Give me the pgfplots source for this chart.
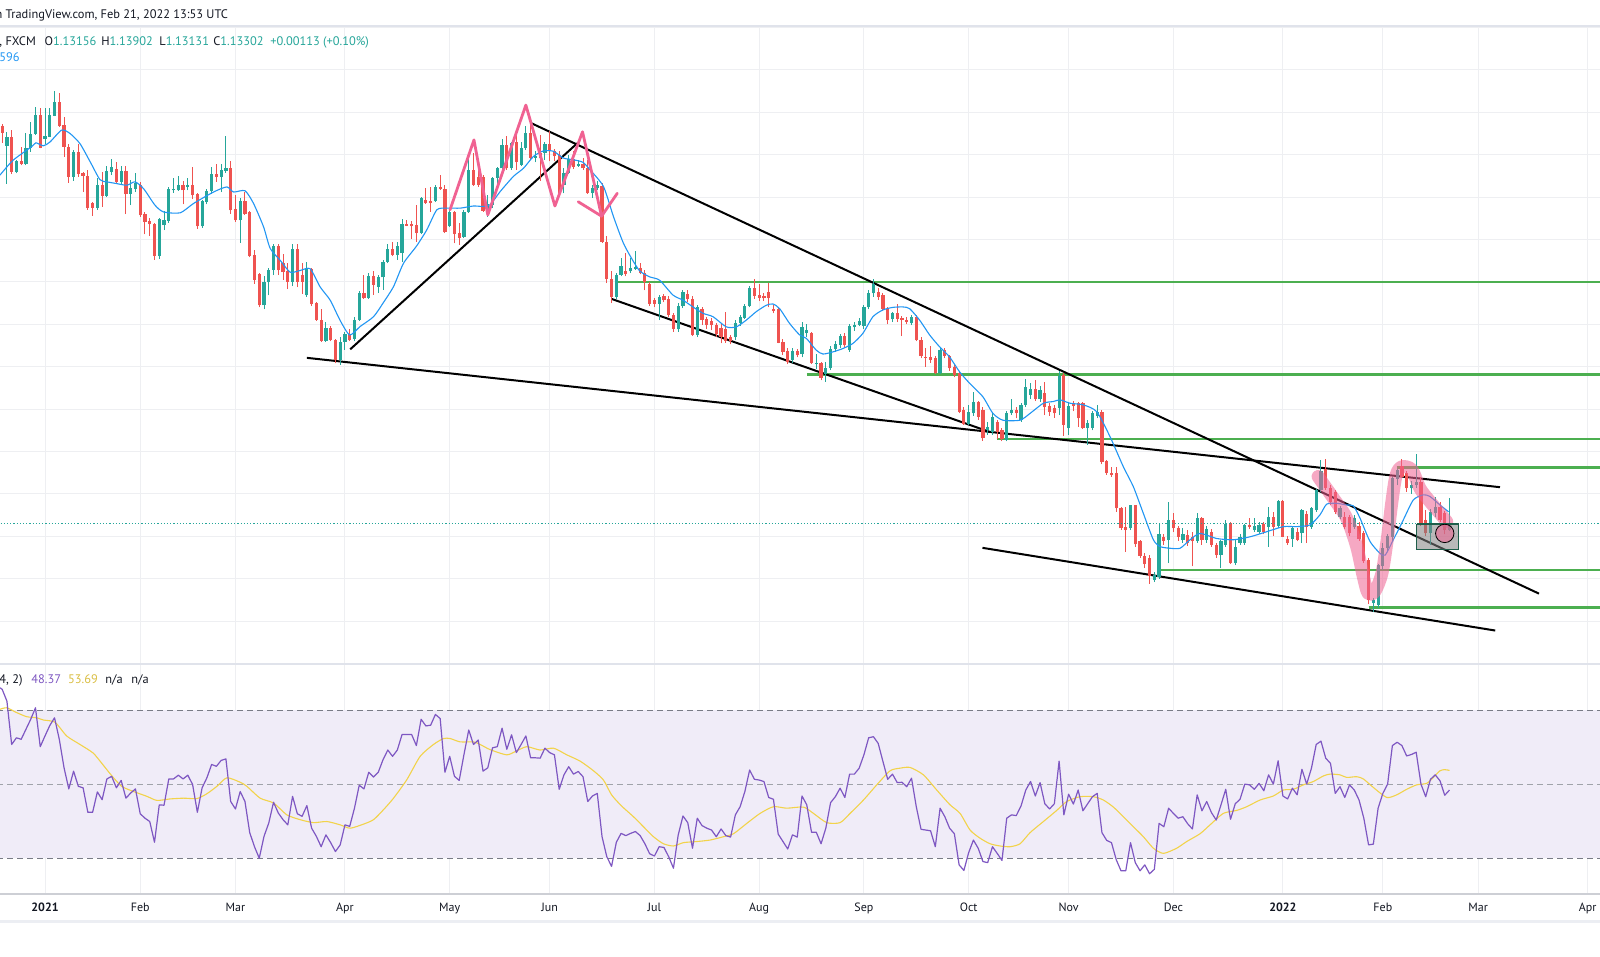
\documentclass[border=0pt]{standalone}
\usepackage{pgfplots}
\pgfplotsset{compat=1.18}
\usepackage{pgfplotstable}
\usepackage{fontspec}
\setmainfont{PT Sans}
\definecolor{upc}{HTML}{26A69A}
\definecolor{dnc}{HTML}{EF5350}
\definecolor{emac}{HTML}{2196F3}
\definecolor{rsic}{HTML}{7E57C2}
\definecolor{mac}{HTML}{F2D34A}
\definecolor{bandc}{HTML}{F0ECF8}
\definecolor{dashc}{HTML}{787B86}
\definecolor{gridc}{HTML}{EEEFF2}
\definecolor{lvlc}{HTML}{4CAF50}
\definecolor{pinkc}{HTML}{F06292}
\definecolor{txtc}{HTML}{131722}
\definecolor{sepc}{HTML}{E0E3EB}
\definecolor{boxb}{HTML}{1E5E4A}

\pgfplotstableread{
x o h l c
-9 1.2267 1.2272 1.2228 1.2252
-8 1.2221 1.2254 1.2132 1.2242
-7 1.2242 1.2258 1.2154 1.2160
-6 1.2160 1.2187 1.2156 1.2185
-5 1.2185 1.2219 1.2175 1.2179
-4 1.2179 1.2252 1.2175 1.2215
-3 1.2215 1.2278 1.2207 1.2249
-2 1.2249 1.2313 1.2246 1.2293
-1 1.2293 1.2309 1.2215 1.2216
0 1.2237 1.2309 1.2226 1.2244
1 1.2242 1.2309 1.2241 1.2293
2 1.2292 1.2350 1.2291 1.2324
3 1.2324 1.2346 1.2266 1.2268
4 1.2270 1.2288 1.2195 1.2219
5 1.2219 1.2225 1.2134 1.2148
6 1.2148 1.2211 1.2138 1.2207
7 1.2207 1.2225 1.2148 1.2154
8 1.2157 1.2160 1.2112 1.2150
9 1.2150 1.2164 1.2070 1.2075
10 1.2085 1.2089 1.2056 1.2075
11 1.2075 1.2144 1.2070 1.2128
12 1.2128 1.2160 1.2077 1.2103
13 1.2103 1.2174 1.2100 1.2162
14 1.2160 1.2189 1.2152 1.2170
15 1.2167 1.2183 1.2133 1.2136
16 1.2136 1.2174 1.2132 1.2162
17 1.2162 1.2173 1.2060 1.2107
18 1.2107 1.2141 1.2081 1.2121
19 1.2119 1.2156 1.2112 1.2134
20 1.2128 1.2136 1.2054 1.2057
21 1.2060 1.2064 1.2012 1.2041
22 1.2043 1.2051 1.2008 1.2036
23 1.2036 1.2038 1.1952 1.1961
24 1.1961 1.2051 1.1954 1.2049
25 1.2034 1.2067 1.2022 1.2045
26 1.2044 1.2123 1.2040 1.2119
27 1.2116 1.2144 1.2110 1.2119
28 1.2116 1.2149 1.2115 1.2128
29 1.2128 1.2138 1.2083 1.2116
30 1.2124 1.2146 1.2116 1.2128
31 1.2128 1.2170 1.2095 1.2104
32 1.2107 1.2110 1.2025 1.2031
33 1.2031 1.2093 1.2028 1.2091
34 1.2089 1.2120 1.2083 1.2114
35 1.2114 1.2170 1.2108 1.2154
36 1.2154 1.2179 1.2136 1.2148
37 1.2148 1.2178 1.2112 1.2164
38 1.2162 1.2245 1.2157 1.2168
39 1.2168 1.2185 1.2061 1.2069
40 1.2071 1.2104 1.2042 1.2045
41 1.2045 1.2097 1.1992 1.2091
42 1.2091 1.2112 1.2058 1.2061
43 1.2065 1.2068 1.1958 1.1961
44 1.1964 1.1976 1.1896 1.1905
45 1.1918 1.1920 1.1840 1.1845
46 1.1845 1.1913 1.1835 1.1899
47 1.1899 1.1934 1.1868 1.1929
48 1.1929 1.1990 1.1916 1.1984
49 1.1984 1.1989 1.1916 1.1927
50 1.1945 1.1965 1.1905 1.1923
51 1.1926 1.1945 1.1883 1.1900
52 1.1900 1.1989 1.1890 1.1977
53 1.1977 1.1989 1.1888 1.1901
54 1.1916 1.1945 1.1872 1.1900
55 1.1868 1.1947 1.1865 1.1933
56 1.1931 1.1933 1.1843 1.1847
57 1.1850 1.1853 1.1808 1.1811
58 1.1811 1.1835 1.1758 1.1761
59 1.1761 1.1805 1.1758 1.1792
60 1.1792 1.1795 1.1760 1.1762
61 1.1764 1.1766 1.1708 1.1715
62 1.1715 1.1770 1.1705 1.1758
63 1.1758 1.1781 1.1740 1.1777
64 1.1777 1.1789 1.1760 1.1762
65 1.1765 1.1818 1.1760 1.1811
66 1.1811 1.1879 1.1809 1.1874
67 1.1874 1.1917 1.1860 1.1862
68 1.1862 1.1921 1.1860 1.1914
69 1.1914 1.1925 1.1870 1.1893
70 1.1889 1.1917 1.1874 1.1911
71 1.1911 1.1952 1.1881 1.1948
72 1.1948 1.1990 1.1944 1.1977
73 1.1977 1.1995 1.1960 1.1964
74 1.1964 1.1995 1.1952 1.1984
75 1.1969 1.2048 1.1948 1.2037
76 1.2037 1.2046 1.2031 1.2033
77 1.2037 1.2043 1.2002 1.2031
78 1.2035 1.2082 1.1995 1.2015
79 1.2015 1.2100 1.2013 1.2098
80 1.2094 1.2121 1.2084 1.2086
81 1.2092 1.2125 1.2066 1.2086
82 1.2090 1.2129 1.2088 1.2125
83 1.2125 1.2151 1.2117 1.2119
84 1.2119 1.2129 1.2015 1.2017
85 1.2031 1.2074 1.2029 1.2066
86 1.2066 1.2068 1.1991 1.2013
87 1.2015 1.2039 1.1988 1.2003
88 1.2006 1.2070 1.2003 1.2066
89 1.2064 1.2192 1.2062 1.2164
90 1.2164 1.2204 1.2126 1.2129
91 1.2147 1.2171 1.2125 1.2129
92 1.2147 1.2153 1.2066 1.2068
93 1.2068 1.2105 1.2054 1.2084
94 1.2082 1.2147 1.2074 1.2145
95 1.2145 1.2172 1.2129 1.2168
96 1.2168 1.2237 1.2164 1.2223
97 1.2223 1.2243 1.2164 1.2168
98 1.2168 1.2231 1.2164 1.2227
99 1.2229 1.2249 1.2164 1.2182
100 1.2176 1.2231 1.2174 1.2215
101 1.2215 1.2268 1.2212 1.2251
102 1.2251 1.2278 1.2188 1.2192
103 1.2192 1.2208 1.2182 1.2196
104 1.2205 1.2247 1.2139 1.2192
105 1.2204 1.2231 1.2188 1.2226
106 1.2226 1.2255 1.2184 1.2208
107 1.2208 1.2213 1.2184 1.2196
108 1.2200 1.2208 1.2108 1.2109
109 1.2129 1.2168 1.2109 1.2158
110 1.2158 1.2200 1.2155 1.2190
111 1.2190 1.2208 1.2166 1.2171
112 1.2174 1.2188 1.2172 1.2178
113 1.2178 1.2192 1.2164 1.2168
114 1.2168 1.2188 1.2108 1.2109
115 1.2109 1.2129 1.2098 1.2121
116 1.2121 1.2139 1.2117 1.2129
117 1.2127 1.2133 1.1992 1.1995
118 1.1995 1.2009 1.1897 1.1907
119 1.1907 1.1925 1.1850 1.1864
120 1.1864 1.1922 1.1859 1.1917
121 1.1917 1.1956 1.1913 1.1938
122 1.1925 1.1969 1.1913 1.1919
123 1.1925 1.1956 1.1921 1.1932
124 1.1930 1.1974 1.1929 1.1936
125 1.1932 1.1944 1.1918 1.1921
126 1.1922 1.1929 1.1880 1.1899
127 1.1896 1.1900 1.1843 1.1849
128 1.1857 1.1862 1.1840 1.1849
129 1.1848 1.1870 1.1810 1.1865
130 1.1867 1.1872 1.1852 1.1857
131 1.1859 1.1866 1.1818 1.1822
132 1.1822 1.1826 1.1782 1.1790
133 1.1788 1.1850 1.1782 1.1843
134 1.1843 1.1882 1.1838 1.1877
135 1.1871 1.1880 1.1852 1.1859
136 1.1859 1.1866 1.1772 1.1775
137 1.1775 1.1845 1.1770 1.1840
138 1.1835 1.1842 1.1798 1.1810
139 1.1812 1.1818 1.1790 1.1798
140 1.1808 1.1815 1.1786 1.1798
141 1.1798 1.1802 1.1770 1.1777
142 1.1792 1.1800 1.1755 1.1769
143 1.1790 1.1830 1.1756 1.1761
144 1.1769 1.1775 1.1753 1.1761
145 1.1769 1.1810 1.1762 1.1804
146 1.1802 1.1822 1.1796 1.1818
147 1.1816 1.1848 1.1812 1.1843
148 1.1843 1.1890 1.1840 1.1886
149 1.1886 1.1908 1.1860 1.1867
150 1.1869 1.1896 1.1855 1.1863
151 1.1867 1.1875 1.1855 1.1861
152 1.1877 1.1897 1.1840 1.1863
153 1.1837 1.1845 1.1826 1.1831
154 1.1835 1.1840 1.1755 1.1757
155 1.1759 1.1765 1.1728 1.1735
156 1.1738 1.1745 1.1706 1.1712
157 1.1716 1.1745 1.1708 1.1737
158 1.1737 1.1742 1.1722 1.1727
159 1.1730 1.1805 1.1722 1.1794
160 1.1779 1.1800 1.1770 1.1786
161 1.1779 1.1782 1.1706 1.1708
162 1.1706 1.1730 1.1695 1.1708
163 1.1708 1.1712 1.1668 1.1674
164 1.1684 1.1712 1.1665 1.1698
165 1.1696 1.1748 1.1692 1.1743
166 1.1741 1.1760 1.1735 1.1753
167 1.1751 1.1778 1.1745 1.1772
168 1.1772 1.1780 1.1745 1.1751
169 1.1739 1.1800 1.1735 1.1796
170 1.1793 1.1805 1.1785 1.1798
171 1.1798 1.1815 1.1795 1.1808
172 1.1796 1.1845 1.1790 1.1840
173 1.1840 1.1880 1.1835 1.1875
174 1.1873 1.1908 1.1865 1.1896
175 1.1877 1.1885 1.1858 1.1865
176 1.1869 1.1875 1.1832 1.1837
177 1.1837 1.1842 1.1800 1.1810
178 1.1812 1.1830 1.1805 1.1826
179 1.1826 1.1849 1.1805 1.1812
180 1.1816 1.1820 1.1772 1.1810
181 1.1810 1.1818 1.1800 1.1806
182 1.1802 1.1822 1.1798 1.1818
183 1.1818 1.1822 1.1760 1.1763
184 1.1764 1.1770 1.1720 1.1725
185 1.1723 1.1745 1.1700 1.1721
186 1.1722 1.1750 1.1710 1.1717
187 1.1720 1.1725 1.1684 1.1686
188 1.1686 1.1745 1.1683 1.1739
189 1.1739 1.1745 1.1720 1.1725
190 1.1725 1.1728 1.1690 1.1696
191 1.1700 1.1705 1.1675 1.1680
192 1.1686 1.1690 1.1590 1.1594
193 1.1598 1.1605 1.1563 1.1566
194 1.1566 1.1610 1.1562 1.1594
195 1.1590 1.1640 1.1585 1.1617
196 1.1617 1.1620 1.1575 1.1582
197 1.1598 1.1605 1.1525 1.1531
198 1.1551 1.1570 1.1540 1.1558
199 1.1547 1.1590 1.1540 1.1582
200 1.1570 1.1575 1.1530 1.1547
201 1.1551 1.1555 1.1524 1.1529
202 1.1527 1.1595 1.1524 1.1590
203 1.1590 1.1623 1.1586 1.1598
204 1.1598 1.1605 1.1578 1.1590
205 1.1574 1.1615 1.1570 1.1610
206 1.1610 1.1671 1.1605 1.1653
207 1.1633 1.1661 1.1625 1.1648
208 1.1648 1.1669 1.1620 1.1623
209 1.1624 1.1655 1.1618 1.1645
210 1.1637 1.1665 1.1586 1.1604
211 1.1607 1.1615 1.1585 1.1594
212 1.1602 1.1610 1.1580 1.1590
213 1.1602 1.1690 1.1586 1.1679
214 1.1681 1.1685 1.1537 1.1563
215 1.1555 1.1615 1.1540 1.1607
216 1.1614 1.1620 1.1595 1.1607
217 1.1614 1.1618 1.1559 1.1578
218 1.1614 1.1618 1.1553 1.1555
219 1.1555 1.1575 1.1516 1.1568
220 1.1555 1.1595 1.1550 1.1590
221 1.1584 1.1610 1.1578 1.1594
222 1.1594 1.1598 1.1470 1.1476
223 1.1478 1.1480 1.1445 1.1449
224 1.1449 1.1464 1.1441 1.1445
225 1.1449 1.1464 1.1358 1.1366
226 1.1368 1.1370 1.1315 1.1319
227 1.1323 1.1370 1.1264 1.1315
228 1.1319 1.1375 1.1315 1.1373
229 1.1373 1.1375 1.1275 1.1281
230 1.1288 1.1292 1.1250 1.1254
231 1.1254 1.1260 1.1225 1.1234
232 1.1248 1.1255 1.1188 1.1207
233 1.1197 1.1215 1.1192 1.1209
234 1.1205 1.1331 1.1200 1.1306
235 1.1299 1.1305 1.1280 1.1290
236 1.1292 1.1382 1.1237 1.1339
237 1.1339 1.1354 1.1310 1.1319
238 1.1319 1.1325 1.1290 1.1299
239 1.1292 1.1320 1.1285 1.1306
240 1.1303 1.1315 1.1278 1.1284
241 1.1299 1.1310 1.1229 1.1288
242 1.1288 1.1355 1.1285 1.1344
243 1.1343 1.1345 1.1280 1.1292
244 1.1292 1.1325 1.1285 1.1318
245 1.1311 1.1318 1.1275 1.1280
246 1.1280 1.1285 1.1250 1.1256
247 1.1256 1.1292 1.1225 1.1288
248 1.1280 1.1339 1.1275 1.1329
249 1.1331 1.1335 1.1235 1.1237
250 1.1237 1.1295 1.1232 1.1274
251 1.1285 1.1305 1.1280 1.1298
252 1.1284 1.1330 1.1280 1.1327
253 1.1327 1.1343 1.1318 1.1323
254 1.1315 1.1343 1.1310 1.1325
255 1.1311 1.1333 1.1305 1.1327
256 1.1329 1.1335 1.1305 1.1311
257 1.1323 1.1369 1.1276 1.1345
258 1.1345 1.1358 1.1301 1.1323
259 1.1325 1.1386 1.1320 1.1384
260 1.1384 1.1386 1.1299 1.1299
261 1.1295 1.1300 1.1280 1.1285
262 1.1295 1.1322 1.1276 1.1319
263 1.1311 1.1320 1.1288 1.1292
264 1.1307 1.1365 1.1284 1.1362
265 1.1353 1.1360 1.1284 1.1323
266 1.1323 1.1370 1.1318 1.1366
267 1.1362 1.1412 1.1358 1.1409
268 1.1409 1.1480 1.1405 1.1453
269 1.1458 1.1482 1.1410 1.1413
270 1.1413 1.1420 1.1375 1.1382
271 1.1405 1.1410 1.1352 1.1358
272 1.1345 1.1372 1.1340 1.1366
273 1.1345 1.1358 1.1318 1.1323
274 1.1345 1.1350 1.1300 1.1307
275 1.1323 1.1350 1.1318 1.1343
276 1.1325 1.1333 1.1290 1.1295
277 1.1307 1.1312 1.1238 1.1241
278 1.1244 1.1248 1.1140 1.1149
279 1.1142 1.1155 1.1121 1.1149
280 1.1138 1.1235 1.1130 1.1233
281 1.1229 1.1284 1.1220 1.1272
282 1.1272 1.1305 1.1265 1.1301
283 1.1299 1.1440 1.1290 1.1437
284 1.1435 1.1460 1.1420 1.1457
285 1.1465 1.1482 1.1438 1.1441
286 1.1449 1.1455 1.1405 1.1413
287 1.1413 1.1430 1.1400 1.1421
288 1.1421 1.1494 1.1415 1.1429
289 1.1429 1.1440 1.1325 1.1331
290 1.1339 1.1362 1.1300 1.1307
291 1.1307 1.1365 1.1280 1.1358
292 1.1354 1.1394 1.1345 1.1370
293 1.1370 1.1380 1.1335 1.1339
294 1.1354 1.1360 1.1305 1.1315
295 1.1316 1.1390 1.1313 1.1330
}\candles

\pgfplotstableread{
x m
-9.45 1.2152
-6.7 1.2187
-2.8 1.2219
-1.9 1.2228
-0.35 1.2221
1.05 1.2230
3.5 1.2258
5.25 1.2250
7.35 1.2226
9.5 1.2183
11.55 1.2141
13 1.2136
15 1.2132
17.2 1.2128
18.9 1.2136
20.7 1.2120
23.1 1.2081
24.9 1.2065
28.4 1.2063
31.2 1.2085
35.4 1.2112
38.2 1.2124
39.6 1.2112
42 1.2115
43.8 1.2085
45.9 1.2030
47.3 1.1979
49.4 1.1951
51.5 1.1923
53.6 1.1927
55.7 1.1931
57.8 1.1888
59.9 1.1857
62 1.1809
64 1.1775
66.2 1.1795
69 1.1818
71 1.1850
73.2 1.1889
75.3 1.1944
78 1.1984
80.2 1.2023
82.3 1.2070
84.4 1.2074
87.2 1.2074
90 1.2079
92 1.2078
93.5 1.2082
95.6 1.2113
98.4 1.2149
100.5 1.2168
102.6 1.2196
104.7 1.2209
106.8 1.2208
108.9 1.2192
111 1.2188
113 1.2182
114.5 1.2164
117.3 1.2125
119.4 1.2054
121.5 1.1991
123.6 1.1948
125 1.1925
127 1.1912
129.1 1.1904
131.9 1.1869
134 1.1857
136.1 1.1841
138.2 1.1826
140.3 1.1818
143.1 1.1794
145.2 1.1794
147.3 1.1810
149.4 1.1830
151.5 1.1845
152.9 1.1848
154.3 1.1837
156.4 1.1802
158.5 1.1775
159.9 1.1767
162 1.1739
163.4 1.1730
165.5 1.1735
167.6 1.1743
169.7 1.1755
171.8 1.1779
173.9 1.1818
176 1.1834
178.1 1.1840
180.2 1.1841
181.6 1.1837
183.7 1.1810
185.8 1.1775
187.9 1.1747
190 1.1723
192.1 1.1688
194.2 1.1661
197 1.1629
199.1 1.1590
201.2 1.1574
204.8 1.1574
206.9 1.1590
209.7 1.1614
211.8 1.1618
213.2 1.1622
215.3 1.1614
218.1 1.1610
220.9 1.1594
223.7 1.1535
226.5 1.1464
228.6 1.1417
230.7 1.1354
232.8 1.1292
234.2 1.1276
236.3 1.1272
238.4 1.1272
240.5 1.1292
242.6 1.1307
246.1 1.1295
249.6 1.1292
253.1 1.1299
256.6 1.1311
260.1 1.1323
262.9 1.1323
265.7 1.1327
267.8 1.1351
269.2 1.1376
271.3 1.1378
273.4 1.1374
274.8 1.1372
276.2 1.1343
278.3 1.1288
280.4 1.1260
281.5 1.1256
283.2 1.1292
285.3 1.1339
287.4 1.1386
289.5 1.1398
290.9 1.1394
293 1.1374
294.8 1.1358
}\ema

\pgfplotstableread{
x r
-9.45 76.0
-9 75.6
-8 72.4
-7 60.7
-6 62.5
-5 62.1
-4 64.8
-3 67.5
-2 70.6
-1 60.1
0 63.0
1 65.8
2 67.9
3 62.1
4 54.4
5 48.7
6 53.5
7 49.4
8 49.0
9 42.4
10 42.4
11 47.9
12 45.8
13 51.4
14 52.1
15 49.0
16 51.0
17 46.2
18 47.6
19 48.7
20 42.0
21 40.8
22 39.9
23 34.3
24 44.4
25 44.3
26 51.4
27 51.4
28 52.4
29 51.4
30 52.4
31 49.9
32 42.4
33 49.0
34 51.7
35 55.3
36 54.8
37 56.4
38 56.8
39 45.3
40 43.3
41 48.0
42 45.3
43 36.9
44 33.1
45 30.0
46 35.9
47 39.5
48 45.1
49 42.2
50 40.4
51 39.0
52 46.7
53 42.0
54 41.3
55 44.2
56 38.1
57 35.9
58 33.1
59 36.3
60 34.2
61 31.8
62 33.6
63 39.0
64 38.6
65 43.5
66 49.7
67 48.7
68 53.2
69 51.9
70 53.2
71 56.6
72 59.2
73 57.5
74 59.2
75 63.4
76 63.4
77 63.4
78 60.4
79 67.5
80 65.7
81 65.9
82 68.8
83 67.7
84 53.2
85 57.5
86 52.1
87 51.0
88 58.0
89 64.6
90 60.7
91 61.9
92 53.5
93 54.4
94 59.8
95 60.1
96 65.1
97 59.4
98 63.3
99 58.5
100 60.7
101 63.0
102 57.1
103 57.1
104 57.0
105 59.7
106 58.5
107 57.9
108 48.6
109 52.5
110 54.7
111 52.7
112 53.4
113 52.0
114 45.3
115 46.8
116 47.5
117 35.8
118 30.4
119 27.8
120 34.3
121 36.7
122 36.1
123 36.7
124 37.2
125 36.1
126 33.9
127 31.2
128 30.6
129 33.1
130 32.9
131 30.4
132 27.3
133 36.3
134 41.4
135 39.6
136 32.7
137 40.8
138 38.8
139 38.1
140 37.6
141 35.8
142 37.9
143 36.1
144 35.7
145 41.7
146 43.9
147 48.0
148 53.8
149 51.3
150 51.1
151 50.7
152 46.4
153 45.9
154 36.5
155 34.5
156 32.5
157 36.3
158 35.7
159 46.8
160 44.4
161 37.0
162 37.0
163 33.9
164 38.1
165 45.0
166 46.6
167 48.9
168 46.4
169 52.7
170 52.7
171 54.3
172 57.9
173 62.5
174 62.8
175 61.0
176 56.1
177 51.3
178 52.7
179 50.4
180 50.5
181 49.3
182 51.6
183 43.9
184 37.8
185 37.6
186 37.4
187 33.1
188 43.5
189 41.2
190 38.1
191 36.6
192 28.2
193 26.7
194 31.5
195 34.9
196 32.7
197 29.1
198 28.8
199 33.1
200 31.3
201 29.4
202 40.8
203 41.7
204 41.5
205 44.1
206 48.4
207 50.7
208 46.8
209 50.4
210 44.7
211 43.3
212 44.7
213 56.2
214 41.7
215 47.3
216 44.6
217 48.4
218 42.8
219 44.7
220 46.6
221 47.5
222 36.9
223 34.8
224 34.2
225 29.6
226 26.6
227 26.6
228 34.2
229 28.8
230 26.6
231 28.2
232 25.8
233 27.0
234 39.4
235 38.5
236 43.5
237 42.1
238 40.8
239 41.2
240 39.3
241 37.9
242 47.1
243 42.8
244 45.3
245 42.3
246 40.3
247 44.4
248 48.6
249 40.5
250 44.7
251 45.9
252 50.0
253 49.8
254 48.6
255 50.2
256 48.2
257 52.5
258 50.0
259 56.3
260 46.8
261 46.0
262 48.9
263 47.1
264 54.0
265 50.0
266 54.3
267 60.7
268 61.6
269 57.0
270 55.6
271 47.5
272 49.3
273 46.4
274 49.8
275 48.4
276 45.7
277 40.8
278 33.6
279 33.8
280 43.5
281 47.5
282 50.0
283 60.4
284 61.3
285 60.4
286 57.6
287 58.0
288 58.6
289 50.0
290 46.6
291 51.3
292 52.5
293 50.9
294 47.0
295 48.4
}\rsi

\pgfplotstableread{
x m
-9.45 70.2
-8.05 70.6
-5.95 69.3
-3.85 68.2
-1.75 67.9
-0.35 67.3
2.1 66.7
4.55 63.0
7.35 60.7
10.1 58.4
12 55.5
14 52.3
16.1 49.4
18.6 48.0
21.4 46.7
23.5 45.6
26.3 46.0
29.1 46.2
31.9 46.1
34.0 47.4
36.1 49.4
38.2 51.7
41.0 50.5
42.4 49.4
45.2 46.2
48.0 44.9
50.8 41.7
53.6 40.4
56.4 39.6
59.2 39.9
62.0 39.0
64.1 38.1
66.9 39.2
69.0 40.4
71.1 43.1
73.2 46.2
76.0 51.2
78.8 57.5
81.6 60.7
83.7 62.3
85.1 62.3
87.2 61.4
90.0 61.4
91.4 60.7
93.5 59.3
97.0 57.9
99.1 59.0
101.2 60.1
104.0 59.2
106.8 59.7
109.6 57.9
112.4 56.2
115.2 53.6
117.3 51.1
119.0 47.1
121.1 44.1
123.6 41.2
125.7 38.5
127.8 35.8
129.9 33.9
132.0 33.3
134.1 34.2
136.9 34.5
139.7 34.9
142.5 35.8
144.6 36.6
147.4 39.4
150.2 42.1
153.0 43.9
155.8 43.5
159.3 43.8
161.4 42.1
164.2 39.6
167.0 39.6
169.1 42.1
171.9 45.7
174.7 49.8
177.5 53.6
179.6 54.3
181.7 54.5
184.5 52.5
187.3 48.4
190.1 44.4
192.2 42.1
194.3 37.6
196.4 35.4
198.5 33.9
200.6 33.3
202.7 33.1
204.8 33.9
206.9 36.9
209.7 39.9
212.5 42.9
214.6 45.3
217.4 46.6
220.2 46.6
222.3 45.7
224.4 43.8
226.5 41.2
228.6 38.5
230.7 35.8
232.8 32.7
234.9 31.3
237.7 32.7
239.8 34.5
242.6 36.6
244.7 39.0
247.5 42.1
250.3 42.9
252.4 43.9
255.2 45.7
258.0 46.8
260.1 48.4
262.2 48.6
264.3 49.8
266.4 50.7
268.5 52.2
269.9 52.7
272.0 52.5
273.4 51.8
275.5 52.0
276.9 51.4
279.0 49.1
281.8 46.4
283.9 47.1
286.0 48.6
288.1 49.8
290.2 50.2
291.6 51.8
293.0 53.6
294.0 53.9
295.0 53.7
}\rsima

\pgfplotsset{
  candle/.style n args={1}{draw=none, mark=none, forget plot,
    error bars/.cd, y dir=plus, y explicit, error mark=none,
    error bar style={#1}},
}

\begin{document}
\begin{tikzpicture}
\path[use as bounding box, fill=white] (0pt,0pt) rectangle (800pt,478.5pt);

% ---------------- price pane ----------------
\begin{axis}[
  name=price,
  at={(0pt,146.5pt)}, anchor=south west, scale only axis,
  width=800pt, height=319pt,
  xmin=-9.452, xmax=326.61, ymin=1.09991, ymax=1.25035,
  axis line style={draw=none}, major tick length=0pt,
  xtick={0,20,40,63,85,106,128,150,172,194,215,237,260,281,301,324},
  xticklabels={},
  ytick={1.10,1.11,1.12,1.13,1.14,1.15,1.16,1.17,1.18,1.19,1.20,1.21,1.22,1.23,1.24,1.25},
  yticklabels={},
  grid=major, grid style={draw=gridc, line width=0.5pt},
  clip=true, clip marker paths=true]
% horizontal levels (green)
\addplot[lvlc, line width=1.2pt] coordinates {(120.1,1.1900) (330,1.1900)};
\addplot[lvlc, line width=1.2pt] coordinates {(160.0,1.1682) (330,1.1682)};
\addplot[lvlc, line width=1.2pt] coordinates {(199.9,1.1530) (330,1.1530)};
\addplot[lvlc, line width=1.2pt] coordinates {(283.9,1.1462) (330,1.1462)};
\addplot[lvlc, line width=1.2pt] coordinates {(234.2,1.1221) (330,1.1221)};
\addplot[lvlc, line width=1.2pt] coordinates {(278.0,1.1132) (330,1.1132)};
% trend lines (black)
\addplot[black, line width=1pt] coordinates {(55.0,1.1721) (305.6,1.1416)};
\addplot[black, line width=1pt] coordinates {(102.2,1.2274) (313.8,1.1165)};
\addplot[black, line width=1pt] coordinates {(119.0,1.1860) (198.5,1.1546)};
\addplot[black, line width=1pt] coordinates {(196.9,1.1273) (304.6,1.1078)};
\addplot[black, line width=1pt] coordinates {(64.1,1.1741) (111.8,1.2227)};
% candles: wicks
\addplot[candle={line width=0.5pt, draw=upc}]
  table[x=x, y expr={\thisrow{c}>=\thisrow{o} ? \thisrow{l} : nan},
        y error plus expr={\thisrow{h}-\thisrow{l}}] {\candles};
\addplot[candle={line width=0.5pt, draw=dnc}]
  table[x=x, y expr={\thisrow{c}<\thisrow{o} ? \thisrow{l} : nan},
        y error plus expr={\thisrow{h}-\thisrow{l}}] {\candles};
% candles: bodies
\addplot[candle={line width=1.6pt, draw=upc}]
  table[x=x, y expr={\thisrow{c}>=\thisrow{o} ? \thisrow{o} : nan},
        y error plus expr={max(\thisrow{c}-\thisrow{o},0.00012)}] {\candles};
\addplot[candle={line width=1.6pt, draw=dnc}]
  table[x=x, y expr={\thisrow{c}<\thisrow{o} ? \thisrow{c} : nan},
        y error plus expr={max(\thisrow{o}-\thisrow{c},0.00012)}] {\candles};
% moving average
\addplot[emac, line width=0.55pt, smooth, tension=0.4] table[x=x, y=m] {\ema};
% last price dotted line
\addplot[upc, line width=0.5pt, dash pattern=on 0.6pt off 1pt] coordinates {(-10,1.13302) (330,1.13302)};
% pink M pattern
\addplot[pinkc, line width=1.4pt, line join=round, line cap=round] coordinates {
(85.07,1.2070) (90.1,1.2235) (93.0,1.2058) (101.0,1.2317) (107.1,1.2079) (112.9,1.2254) (116.9,1.2055)};
\addplot[pinkc, line width=1.4pt, line join=round, line cap=round] coordinates {
(112.0,1.2089) (116.9,1.2055) (120.2,1.2109)};
% pink highlighted path
\addplot[pinkc, opacity=0.55, line width=6.5pt, line cap=round, line join=round, smooth, tension=0.5] coordinates {
(267.4,1.1441) (270.6,1.1390) (273.4,1.1343) (275.5,1.1276) (276.9,1.1205) (277.9,1.1166) (279.3,1.1170)
(280.8,1.1213) (281.9,1.1291) (282.9,1.1382) (283.8,1.1445) (285.0,1.1464) (287.1,1.1457)
(288.8,1.1413) (290.9,1.1382) (293.0,1.1354) (294.4,1.1335)};
% grey box
\addplot[draw=boxb, line width=0.6pt, fill=gray, fill opacity=0.55] coordinates {
(288.1,1.1329) (296.9,1.1329) (296.9,1.1270) (288.1,1.1270) (288.1,1.1329)};
% pink dot
\addplot[only marks, mark=*, mark size=4.6pt, mark options={draw=none, fill=pinkc, fill opacity=0.55}] coordinates {(294.0,1.1307)};
\end{axis}

% ---------------- RSI pane ----------------
\begin{axis}[
  name=rsi,
  at={(0pt,31.5pt)}, anchor=south west, scale only axis,
  width=800pt, height=115pt,
  xmin=-9.452, xmax=326.61, ymin=20.34, ymax=82.42,
  axis line style={draw=none}, major tick length=0pt,
  xtick={0,20,40,63,85,106,128,150,172,194,215,237,260,281,301,324},
  xticklabels={\textbf{2021},Feb,Mar,Apr,May,Jun,Jul,Aug,Sep,Oct,Nov,Dec,\textbf{2022},Feb,Mar,Apr},
  xticklabel style={anchor=base, yshift=-9pt, font=\fontsize{6}{7}\selectfont, text=txtc},
  ytick={40,60}, yticklabels={},
  grid=major, grid style={draw=gridc, line width=0.5pt},
  clip=true]
\addplot[draw=none, fill=bandc] coordinates {(-10,30) (330,30) (330,70) (-10,70) (-10,30)};
\addplot[dashc, line width=0.5pt, dash pattern=on 3pt off 2pt] coordinates {(-10,70) (330,70)};
\addplot[dashc!70, line width=0.5pt, dash pattern=on 3pt off 2pt] coordinates {(-10,50) (330,50)};
\addplot[dashc, line width=0.5pt, dash pattern=on 3pt off 2pt] coordinates {(-10,30) (330,30)};
\addplot[mac, line width=0.55pt, smooth, tension=0.4] table[x=x, y=m] {\rsima};
\addplot[rsic, line width=0.6pt, line join=round] table[x=x, y=r] {\rsi};
\end{axis}

% ---------------- separators ----------------
\draw[sepc, line width=0.8pt] (0pt,465.5pt) -- (800pt,465.5pt);
\draw[sepc, line width=0.9pt] (0pt,146.5pt) -- (800pt,146.5pt);
\draw[sepc!80!gray, line width=0.7pt] (0pt,31.5pt) -- (800pt,31.5pt);
\draw[sepc!60, line width=1.5pt] (0pt,17.5pt) -- (800pt,17.5pt);

% ---------------- texts ----------------
\begin{scope}[every node/.style={inner sep=0pt, anchor=base west, font=\fontsize{6.2}{7.5}\selectfont, text=txtc}]
\node at (-2.4pt,469.2pt) {n TradingView.com, Feb 21, 2022 13:53 UTC};
\node at (-0.5pt,455.6pt) {, FXCM};
\node at (22.15pt,455.6pt) {O\textcolor{upc}{1.13156}};
\node at (50.5pt,455.6pt) {H\textcolor{upc}{1.13902}};
\node at (79.5pt,455.6pt) {L\textcolor{upc}{1.13131}};
\node at (106.5pt,455.6pt) {C\textcolor{upc}{1.13302}};
\node[text=upc] at (135pt,455.6pt) {+0.00113 (+0.10\%)};
\node[text=emac] at (-0.5pt,447.6pt) {596};
\node at (-0.5pt,136.5pt) {4, 2)};
\node[text=rsic] at (15.5pt,136.5pt) {48.37};
\node[text=mac!90!black] at (33.85pt,136.5pt) {53.69};
\node at (52.5pt,136.5pt) {n/a};
\node at (65.5pt,136.5pt) {n/a};
\end{scope}
\end{tikzpicture}
\end{document}
